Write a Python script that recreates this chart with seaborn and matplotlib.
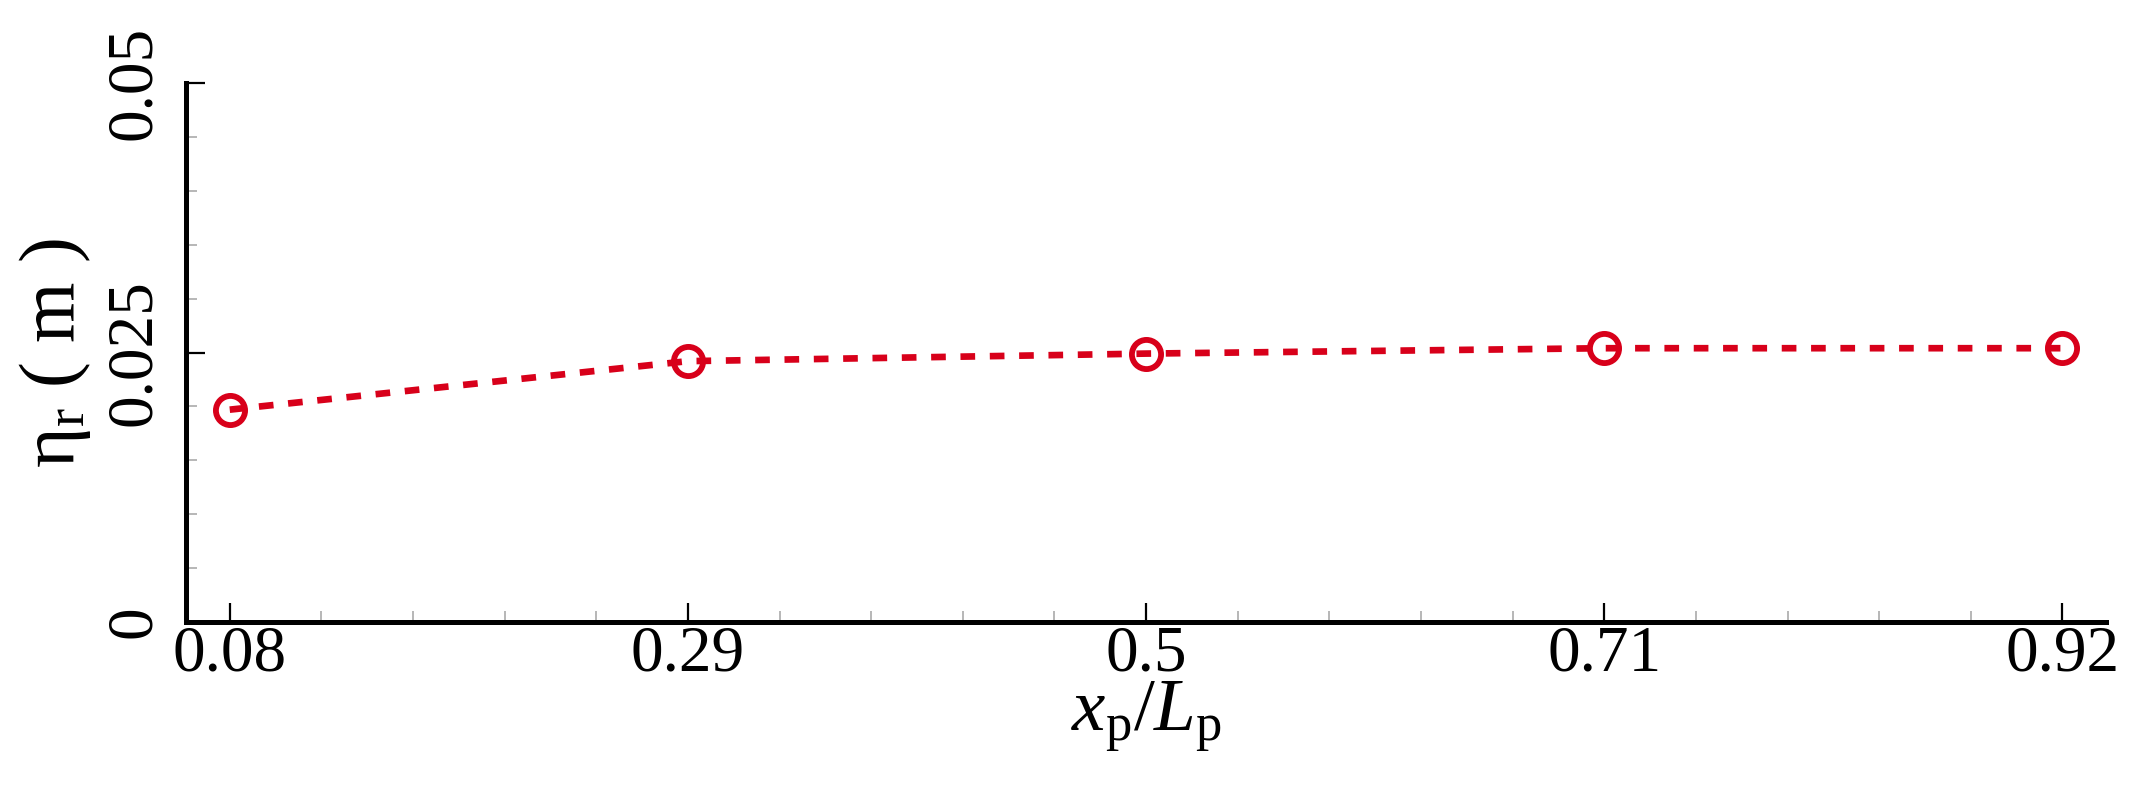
import matplotlib
matplotlib.use("Agg")
import matplotlib.pyplot as plt
import numpy as np
import pandas as pd
import seaborn as sns
from matplotlib.ticker import FixedLocator, MultipleLocator

# values
x_pos = [0.08, 0.29, 0.5, 0.71, 0.92]
eta_r = [0.0197, 0.0242, 0.0249, 0.0254, 0.0254]
x_tick_labels = ["0.08", "0.29", "0.5", "0.71", "0.92"]
y_ticks = [0, 0.025, 0.05]
y_tick_labels = ["0", "0.025", "0.05"]

sns.set_theme(style="ticks")
plt.rcParams["font.family"] = ["Liberation Serif", "DejaVu Serif"]
plt.rcParams["mathtext.fontset"] = "custom"
plt.rcParams["mathtext.rm"] = "Liberation Serif"
plt.rcParams["mathtext.it"] = "Liberation Serif:italic"
plt.rcParams["text.color"] = "black"
plt.rcParams["axes.labelcolor"] = "black"
plt.rcParams["xtick.labelcolor"] = "black"
plt.rcParams["ytick.labelcolor"] = "black"

red = "#d8001a"
df = pd.DataFrame({"x": x_pos, "eta": eta_r})

fig = plt.figure(figsize=(21.44, 7.92), dpi=100)
ax = fig.add_axes([0.0868, 0.2146, 0.8955, 0.6806])

sns.lineplot(data=df, x="x", y="eta", ax=ax, color=red, linewidth=4.8,
             marker="o", markersize=21, markeredgewidth=4.2,
             markerfacecolor="none", markeredgecolor=red)
ax.lines[0].set_dashes((2.2, 2.2))

ax.set_xlim(0.06, 0.94)
ax.set_ylim(0, 0.05)

# major / minor ticks
ax.xaxis.set_major_locator(FixedLocator(x_pos))
ax.set_xticklabels(x_tick_labels)
minor_x = [0.08 + 0.042 * k for k in range(1, 20) if k % 5 != 0]
ax.xaxis.set_minor_locator(FixedLocator(minor_x))
ax.set_yticks(y_ticks)
ax.set_yticklabels(y_tick_labels, rotation=90, va="center")
ax.yaxis.set_minor_locator(MultipleLocator(0.005))

ax.tick_params(which="major", direction="in", length=14, width=1.6,
               color="black", labelsize=47)
ax.tick_params(which="minor", direction="in", length=8, width=1.2,
               color="#aaaaaa")
ax.tick_params(axis="x", which="major", pad=2)
ax.tick_params(axis="y", which="major", pad=16)

for side in ["top", "right"]:
    ax.spines[side].set_visible(False)
for side in ["left", "bottom"]:
    ax.spines[side].set_linewidth(3.6)
    ax.spines[side].set_color("black")

ax.set_xlabel(r"$x_{\mathrm{p}}/L_{\mathrm{p}}$", fontsize=54, labelpad=-4)
ax.set_ylabel(r"η$_{\mathrm{r}}$ ( m )", fontsize=56, labelpad=8)

fig.savefig("out.png", dpi=100, facecolor="white")
plt.close(fig)
